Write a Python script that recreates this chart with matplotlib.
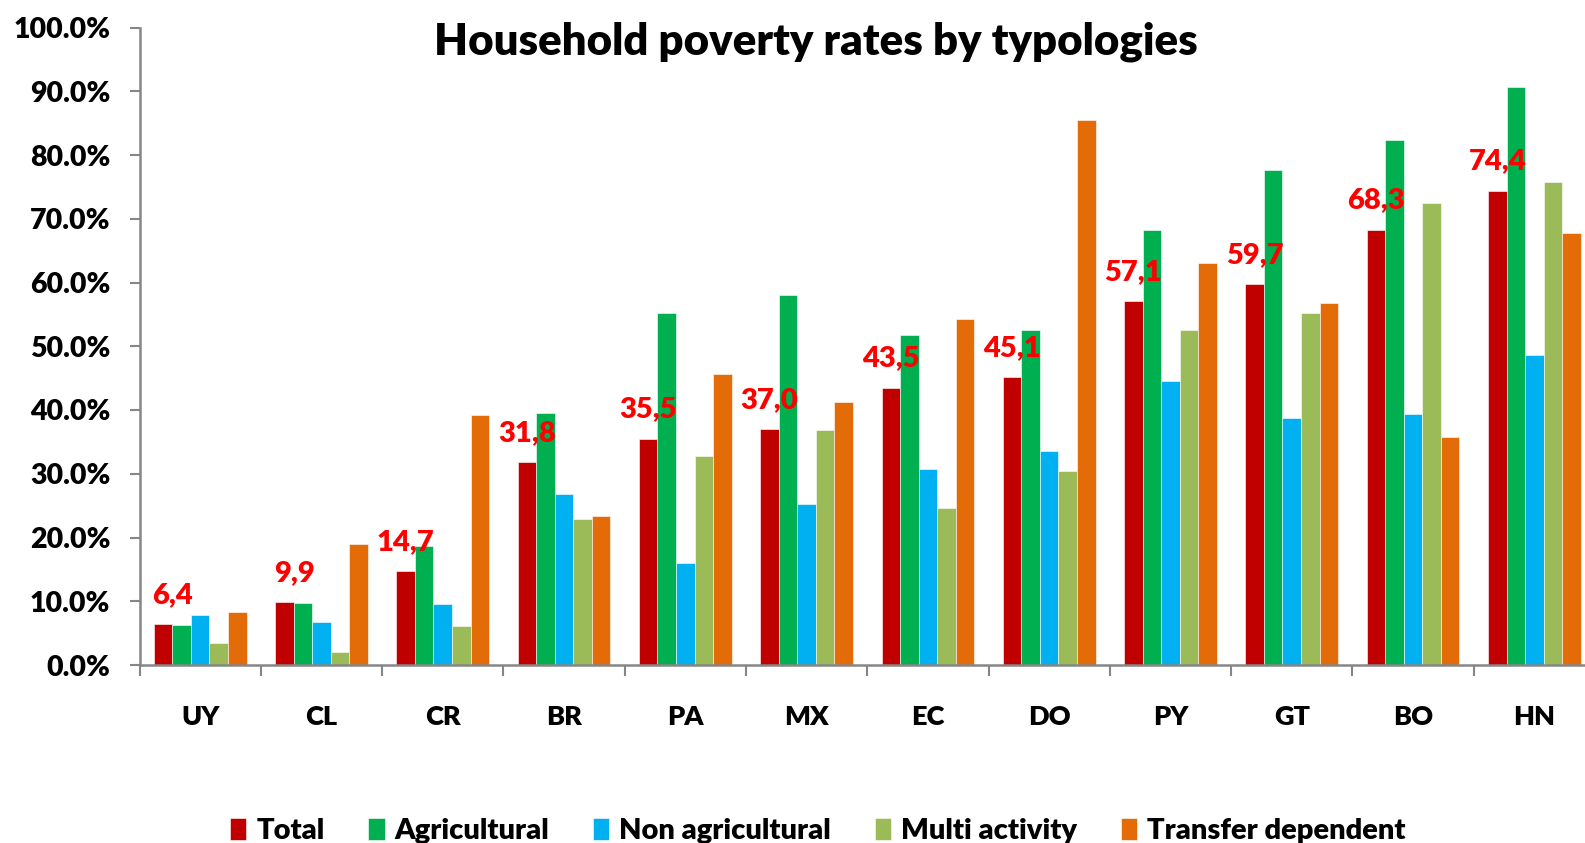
import matplotlib
matplotlib.use("Agg")
import matplotlib.pyplot as plt
import numpy as np
from matplotlib.ticker import FuncFormatter, FixedLocator

plt.rcParams["font.family"] = ["Lato", "DejaVu Sans"]
plt.rcParams["font.weight"] = "heavy"

countries = ["UY", "CL", "CR", "BR", "PA", "MX", "EC", "DO", "PY", "GT", "BO", "HN"]
series_names = ["Total", "Agricultural", "Non agricultural", "Multi activity", "Transfer dependent"]

total = [6.4, 9.9, 14.7, 31.8, 35.5, 37.0, 43.5, 45.1, 57.1, 59.7, 68.3, 74.4]
agricultural = [6.2, 9.8, 18.7, 39.5, 55.2, 58.1, 51.8, 52.6, 68.2, 77.7, 82.4, 90.7]
non_agricultural = [7.8, 6.8, 9.5, 26.9, 16.0, 25.3, 30.7, 33.5, 44.6, 38.7, 39.4, 48.6]
multi_activity = [3.4, 2.0, 6.1, 22.9, 32.8, 36.9, 24.7, 30.4, 52.6, 55.2, 72.5, 75.8]
transfer_dependent = [8.3, 19.0, 39.2, 23.3, 45.7, 41.3, 54.3, 85.5, 63.1, 56.8, 35.7, 67.8]

total_labels = ["6,4", "9,9", "14,7", "31,8", "35,5", "37,0", "43,5", "45,1", "57,1", "59,7", "68,3", "74,4"]

colors = ["#C00000", "#00B050", "#00B0F0", "#9BBB59", "#E36C09"]

W, H = 1585, 843
fig = plt.figure(figsize=(W / 100, H / 100), dpi=100)
ax = fig.add_axes([139.5 / W, 1 - 665 / H, (1595 - 139.5) / W, (665 - 27.5) / H])

x = np.arange(len(countries))
width = 0.153
all_series = [total, agricultural, non_agricultural, multi_activity, transfer_dependent]
for i, (name, vals, col) in enumerate(zip(series_names, all_series, colors)):
    offset = (i - 2) * width
    ax.bar(x + offset, vals, width, color=col, label=name, edgecolor="white", linewidth=0.4)

# short labels sit a little further right in the original
for xi, v, lab in zip(x, total, total_labels):
    shift = 7 if len(lab) == 3 else 0
    ax.annotate(lab, (xi - 2 * width, v), xytext=(shift, 21), textcoords="offset points",
                ha="center", va="center", color="#FF0000", fontsize=21)

ax.set_xlim(-0.5, len(countries) - 0.5)
ax.set_ylim(0, 100)
ax.set_yticks(np.arange(0, 101, 10))
ax.yaxis.set_major_formatter(FuncFormatter(lambda v, _: f"{v:.1f}%"))
ax.tick_params(axis="y", labelsize=20.5, length=7, width=1.5, color="#868686", pad=14)

# boundaries get tick marks, centres get the labels
ax.xaxis.set_major_locator(FixedLocator(np.arange(-0.5, len(countries), 1.0)))
ax.xaxis.set_major_formatter(FuncFormatter(lambda v, _: ""))
ax.xaxis.set_minor_locator(FixedLocator(x))
ax.set_xticklabels(countries, minor=True)
ax.tick_params(axis="x", which="major", length=8, width=1.5, color="#868686")
ax.tick_params(axis="x", which="minor", length=0, labelsize=19.5, pad=29)

for side in ["top", "right"]:
    ax.spines[side].set_visible(False)
for side in ["left", "bottom"]:
    ax.spines[side].set_color("#868686")
    ax.spines[side].set_linewidth(1.8)

fig.text(816 / W, 1 - 42 / H, "Household poverty rates by typologies",
         ha="center", va="center", fontsize=31.5)

fig.legend(loc="center", bbox_to_anchor=(818 / W, 1 - 831 / H), ncol=5, frameon=False,
           fontsize=21, handlelength=0.55, handleheight=0.8, handletextpad=0.35,
           columnspacing=1.5)

fig.savefig("out.png", dpi=100)
